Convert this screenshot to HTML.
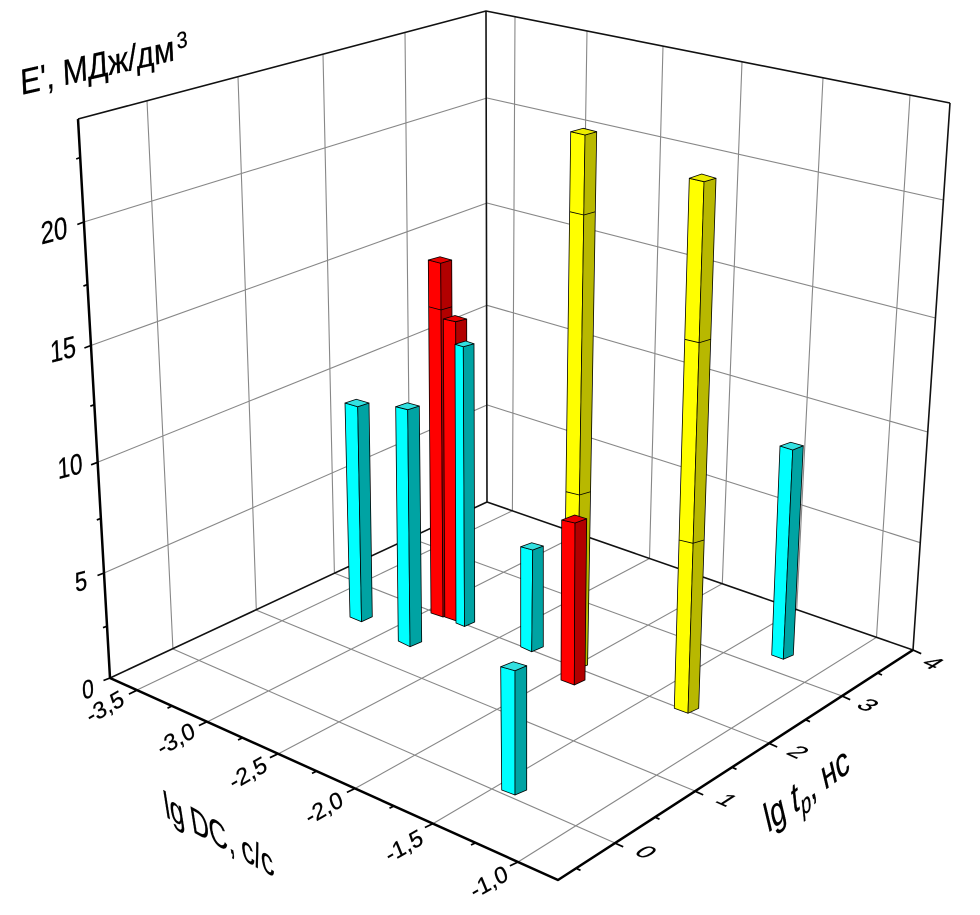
<!DOCTYPE html>
<html><head><meta charset="utf-8"><style>
html,body{margin:0;padding:0;background:#fff;}
svg{display:block;font-family:"Liberation Sans","DejaVu Sans",sans-serif;}
</style></head><body>
<svg width="980" height="915" viewBox="0 0 980 915" xmlns="http://www.w3.org/2000/svg">
<rect width="980" height="915" fill="#fff"/>
<!-- grid -->
<path fill="none" stroke="#878787" stroke-width="1.1" d="
M147 100.7 L172.9 648.6 M238 76.6 L256.3 609.7 M323 54.1 L334.4 573.3 M405 32.4 L410.2 537.9
M104 573 L487 405 M97.6 462.3 L487 305.3 M90.9 345.5 L487 203 M83.8 222 L487 98
M515 16.8 L512.4 510.8 M587 31 L579.2 534 M663 46.1 L649.5 558.5 M742 61.8 L722.3 583.7 M823 77.8 L796.7 609.6 M910 95.1 L876.5 637.3
M487 404.9 L920.3 542.7 M487 305.3 L927.7 432 M487 203 L935.5 318 M487 98 L943.4 200
M173 649 L615 843 M256 610 L695 791 M334 573 L769 743 M410 538 L842 696
M137 690 L512.4 510.8 M207 722 L579.2 534 M278 754 L649.5 558.5 M355 788.5 L722.3 583.7 M433 823.6 L796.7 609.6 M518 862 L876.5 637.3"/>
<!-- frame -->
<path fill="none" stroke="#111" stroke-width="1.6" stroke-linejoin="round" d="M110 678 L487 502 L913 650 M487 502 L486 11 M913 650 L950 103 M78 119 L486 11 L950 103"/>
<!-- axes -->
<path fill="none" stroke="#000" stroke-width="2.5" stroke-linejoin="round" d="M78 119 L110 678 L558 880 L913 650"/>
<!-- ticks -->
<path fill="none" stroke="#000" stroke-width="1.7" d="
M110 678 l-6.5 2.5 M104 573 l-6.5 2.5 M97.6 462.3 l-6.5 2.5 M90.9 345.5 l-6.5 2.5 M83.8 222 l-6.5 2.5
M107 626.2 l-4 1.5 M100.8 518.4 l-4 1.5 M94.3 404.7 l-4 1.5 M87.4 284.6 l-4 1.5 M80.2 157.5 l-4 1.5
M137 690.2 l-8.1 3.9 M207 721.7 l-8.1 3.9 M278 753.8 l-8.1 3.9 M355 788.5 l-8.1 3.9 M433 823.6 l-8.1 3.9 M518 862 l-8.1 3.9
M172 706 l-4.5 2.2 M242.5 737.8 l-4.5 2.2 M316.5 771.2 l-4.5 2.2 M394 806 l-4.5 2.2 M475.5 842.8 l-4.5 2.2
M615 843.1 l8.2 3.7 M695 791.2 l8.2 3.7 M769 743.3 l8.2 3.7 M842 696 l8.2 3.7 M913 650 l8.2 3.7
M576 868.3 l4.5 2 M655 817.2 l4.5 2 M732 767.3 l4.5 2 M805.5 719.7 l4.5 2 M877.5 673 l4.5 2"/>

<!-- bars -->
<g stroke="#000" stroke-width="0.8" stroke-linejoin="round">
<!-- cyan 1 -->
<polygon fill="#00ffff" points="345,403 357.7,406.7 361.5,621.7 350,617"/>
<polygon fill="#00a3a3" points="357.7,406.7 369,403 372.3,616.7 361.5,621.7"/>
<polygon fill="#33e0e0" points="345,403 357.7,406.7 369,403 356.3,399.3"/>
<!-- cyan 2 -->
<polygon fill="#00ffff" points="395.7,406.7 407.7,409.7 410,646.7 398.3,641"/>
<polygon fill="#00a3a3" points="407.7,409.7 419.3,406 421.7,641.7 410,646.7"/>
<polygon fill="#33e0e0" points="395.7,406.7 407.7,409.7 419.3,406 407.3,402.7"/>
<!-- red 7 -->
<polygon fill="#ff0000" points="428.3,260 440.7,263.3 443,617 431,613"/>
<polygon fill="#b20000" points="440.7,263.3 451.7,260 453.5,614 443,617"/>
<polygon fill="#e60000" points="428.3,260 440.7,263.3 451.7,260 440,256.7"/>
<polyline fill="none" points="428.7,306.7 441,310 451.9,306.7"/>
<!-- red 8 -->
<polygon fill="#ff0000" points="443.3,319 455.7,321.7 456.7,621 444.8,617"/>
<polygon fill="#b20000" points="455.7,321.7 466.7,319 467.2,617 456.7,621"/>
<polygon fill="#e60000" points="443.3,319 455.7,321.7 466.7,319 455,315.5"/>
<!-- cyan 3 -->
<polygon fill="#00ffff" points="455,344.3 463.3,346.7 464.5,626.5 456,623"/>
<polygon fill="#00a3a3" points="463.3,346.7 474,343.7 474.7,622 464.5,626.5"/>
<polygon fill="#33e0e0" points="455,344.3 463.3,346.7 474,343.7 465.7,341"/>
<!-- cyan 4 -->
<polygon fill="#00ffff" points="520.7,546.7 532.7,550 531.7,651.7 520.7,646.7"/>
<polygon fill="#00a3a3" points="532.7,550 543.3,546 543.3,646.7 531.7,651.7"/>
<polygon fill="#33e0e0" points="520.7,546.7 532.7,550 543.3,546 531.7,542.7"/>
<!-- yellow 10 -->
<polygon fill="#ffff00" points="570.7,131.7 585,135 576.8,669 563.6,665"/>
<polygon fill="#b8b800" points="585,135 596.7,131.7 587.6,665 576.8,669"/>
<polygon fill="#ecec00" points="570.7,131.7 585,135 596.7,131.7 583.3,128.3"/>
<polyline fill="none" points="569.6,211.7 583.8,215 595.3,211.7"/>
<polyline fill="none" points="565.9,491.7 579.4,495 590.5,491.7"/>
<!-- red 9 -->
<polygon fill="#ff0000" points="561.7,520 575,523 574.3,685 561,680"/>
<polygon fill="#b20000" points="575,523 586.7,518.7 585,680 574.3,685"/>
<polygon fill="#e60000" points="561.7,520 575,523 586.7,518.7 574.7,515"/>
<!-- yellow 11 -->
<polygon fill="#ffff00" points="689.3,178.3 704,181.7 688,713.3 674.3,708.3"/>
<polygon fill="#b8b800" points="704,181.7 716,178.3 698.7,708.3 688,713.3"/>
<polygon fill="#ecec00" points="689.3,178.3 704,181.7 716,178.3 701.7,174"/>
<polyline fill="none" points="684.7,339.3 699.1,342.7 710.7,339.3"/>
<polyline fill="none" points="679,540 693,543.3 704.1,540"/>
<!-- cyan 6 -->
<polygon fill="#00ffff" points="780,446 792.7,450 783.3,659.3 771.7,655"/>
<polygon fill="#00a3a3" points="792.7,450 803.3,445.7 793.3,655 783.3,659.3"/>
<polygon fill="#33e0e0" points="780,446 792.7,450 803.3,445.7 790.7,442.3"/>
<!-- cyan 5 -->
<polygon fill="#00ffff" points="500.7,666.7 515,670.7 515,795 501.7,790"/>
<polygon fill="#00a3a3" points="515,670.7 526.7,665.7 526.7,790 515,795"/>
<polygon fill="#33e0e0" points="500.7,666.7 515,670.7 526.7,665.7 513.3,661.7"/>
</g>

<!-- labels -->
<g fill="#000" stroke="#000" stroke-width="0.3" text-anchor="middle">
<text transform="matrix(0.77,-0.2,0.05,1,54,230)" font-size="31" dy="11">20</text>
<text transform="matrix(0.77,-0.2,0.05,1,63,349)" font-size="30" dy="10.5">15</text>
<text transform="matrix(0.77,-0.2,0.05,1,70,466)" font-size="29" dy="10">10</text>
<text transform="matrix(0.8,-0.2,0.05,1,81,581)" font-size="27" dy="9.5">5</text>
<text transform="matrix(0.8,-0.2,0.05,1,88,689)" font-size="26" dy="9">0</text>

<text transform="matrix(0.82,-0.47,0.35,0.85,105,707)" font-size="25" dy="8.5">-3,5</text>
<text transform="matrix(0.82,-0.47,0.35,0.85,176,739)" font-size="25" dy="8.5">-3,0</text>
<text transform="matrix(0.82,-0.47,0.35,0.85,248,773)" font-size="25" dy="8.5">-2,5</text>
<text transform="matrix(0.82,-0.47,0.35,0.85,324,808)" font-size="25" dy="8.5">-2,0</text>
<text transform="matrix(0.82,-0.47,0.35,0.85,404,846)" font-size="25" dy="8.5">-1,5</text>
<text transform="matrix(0.82,-0.47,0.35,0.85,489,882)" font-size="25" dy="8.5">-1,0</text>

<text transform="matrix(0.82,0.37,-0.71,0.46,646,852)" font-size="28" dy="9.5">0</text>
<text transform="matrix(0.82,0.37,-0.71,0.46,727,800)" font-size="28" dy="9.5">1</text>
<text transform="matrix(0.82,0.37,-0.71,0.46,798,752)" font-size="28" dy="9.5">2</text>
<text transform="matrix(0.82,0.37,-0.71,0.46,868,705)" font-size="28" dy="9.5">3</text>
<text transform="matrix(0.82,0.37,-0.71,0.46,933,663)" font-size="28" dy="9.5">4</text>
</g>
<g fill="#000" stroke="#000" stroke-width="0.3">
<text transform="matrix(0.975,-0.22,0.05,1,21,95)" font-size="36" textLength="158" lengthAdjust="spacingAndGlyphs">E', МДж/дм</text>
<text transform="matrix(0.85,-0.19,0.05,1,177,49)" font-size="23">3</text>
<text transform="matrix(0.875,0.485,0.156,0.988,166,817)" font-size="39" textLength="125" lengthAdjust="spacingAndGlyphs">lg DC, с/с</text>
<text transform="matrix(0.64,-0.48,0.233,0.972,768,833)" font-size="39">lg <tspan font-style="italic">t</tspan><tspan font-style="italic" font-size="27" dy="8">p</tspan><tspan dy="-8">, нс</tspan></text>
</g>
</svg>
</body></html>
